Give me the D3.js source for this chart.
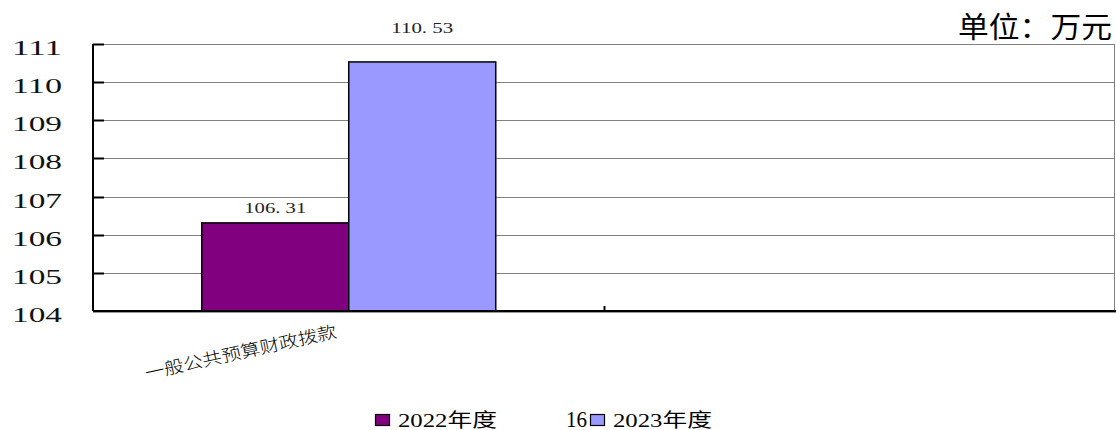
<!DOCTYPE html>
<html>
<head>
<meta charset="utf-8">
<script src="https://cdn.jsdelivr.net/npm/d3@7"></script>
<style>
  body { margin: 0; background: #fff; }
  #container { width: 1116px; height: 430px; }
</style>
</head>
<body>
<div id="container"></div>
<script>
// data
const categories = ["一般公共预算财政拨款", ""];
const seriesNames = ["2022年度", "2023年度"];
const values2022 = [106.31, null];
const values2023 = [110.53, null];
const yTicks = [104, 105, 106, 107, 108, 109, 110, 111];
const colors = ["#800080", "#9999FF"];

const serif = "'Liberation Serif', 'DejaVu Serif', serif";
const cjk = "'Noto Sans CJK SC', sans-serif";

function drawChart() {
    const W = 1116, H = 430;
    const left = 93, right = 1116, top = 44, bottom = 311;

    const svg = d3.select("#container").append("svg")
        .attr("width", W).attr("height", H);

    const x = d3.scaleBand().domain(categories).range([left, right]);
    const x1 = d3.scaleBand().domain(seriesNames).range([-147, 147]);
    const y = d3.scaleLinear().domain([104, 111]).range([bottom, top]);

    // grid lines
    svg.append("g").selectAll("line").data(yTicks.filter(d => d > 104)).enter().append("line")
        .attr("x1", left).attr("x2", 1114.5)
        .attr("y1", d => Math.round(y(d)) + 0.5).attr("y2", d => Math.round(y(d)) + 0.5)
        .attr("stroke", "#808080").attr("stroke-width", 1);
    // right border
    svg.append("line").attr("x1", 1114.5).attr("x2", 1114.5).attr("y1", top).attr("y2", bottom)
        .attr("stroke", "#808080").attr("stroke-width", 1);

    // bars
    const series = [values2022, values2023];
    series.forEach((vals, si) => {
        svg.append("g").selectAll("rect").data(vals.map((v, i) => ({ v, c: categories[i] })).filter(d => d.v != null))
            .enter().append("rect")
            .attr("x", d => x(d.c) + x.bandwidth() / 2 + x1(seriesNames[si]))
            .attr("y", d => y(d.v))
            .attr("width", x1.bandwidth())
            .attr("height", d => bottom - y(d.v))
            .attr("fill", colors[si]).attr("stroke", "#000").attr("stroke-width", 1.5);
    });

    // value labels (2023 label sits higher, as in the source)
    const labelOffset = [10, 29];
    series.forEach((vals, si) => {
        svg.append("g").selectAll("text").data(vals.map((v, i) => ({ v, c: categories[i] })).filter(d => d.v != null))
            .enter().append("text")
            .attr("x", d => x(d.c) + x.bandwidth() / 2 + x1(seriesNames[si]) + x1.bandwidth() / 2)
            .attr("y", d => y(d.v) - labelOffset[si])
            .attr("text-anchor", "middle")
            .attr("font-family", serif).attr("font-size", 15)
            .attr("fill", "#222")
            .attr("textLength", 62).attr("lengthAdjust", "spacingAndGlyphs")
            .text(d => d.v.toFixed(2).replace(".", ". "));
    });

    // y axis
    svg.append("line").attr("x1", left).attr("x2", left).attr("y1", top).attr("y2", bottom)
        .attr("stroke", "#000").attr("stroke-width", 2);
    svg.append("g").selectAll("line").data(yTicks).enter().append("line")
        .attr("x1", left).attr("x2", left + 11)
        .attr("y1", d => Math.round(y(d)) + 0.5).attr("y2", d => Math.round(y(d)) + 0.5)
        .attr("stroke", "#000").attr("stroke-width", 2);
    svg.append("g").selectAll("text").data(yTicks).enter().append("text")
        .attr("x", 12).attr("y", d => y(d) + 11)
        .attr("font-family", serif).attr("font-size", 22)
        .attr("fill", "#111")
        .attr("textLength", 50).attr("lengthAdjust", "spacingAndGlyphs")
        .text(d => d);

    // x axis
    svg.append("line").attr("x1", left).attr("x2", W).attr("y1", bottom).attr("y2", bottom)
        .attr("stroke", "#000").attr("stroke-width", 2);
    svg.append("line").attr("x1", left).attr("x2", W).attr("y1", bottom + 1.5).attr("y2", bottom + 1.5)
        .attr("stroke", "#999").attr("stroke-width", 1);
    svg.append("g").selectAll("line").data(categories.slice(1)).enter().append("line")
        .attr("x1", d => x(d)).attr("x2", d => x(d)).attr("y1", bottom - 5).attr("y2", bottom)
        .attr("stroke", "#000").attr("stroke-width", 2);

    svg.append("g").selectAll("text").data(categories.filter(d => d)).enter().append("text")
        .attr("transform", d => `translate(${x(d) + x.bandwidth() / 2 - 11},${bottom + 26}) rotate(-12.5)`)
        .attr("text-anchor", "end")
        .attr("font-family", cjk).attr("font-size", 17).attr("font-weight", 300)
        .attr("textLength", 196).attr("lengthAdjust", "spacingAndGlyphs")
        .text(d => d);

    // unit
    svg.append("text").attr("x", 1112).attr("y", 38).attr("text-anchor", "end")
        .attr("font-family", cjk).attr("font-size", 29)
        .attr("textLength", 154).attr("lengthAdjust", "spacingAndGlyphs")
        .text("单位：万元");

    // legend
    const legendX = [375, 590];
    const lg = svg.append("g");
    seriesNames.forEach((s, i) => {
        lg.append("rect").attr("x", legendX[i] + 0.5).attr("y", 414.5).attr("width", 14).attr("height", 11)
            .attr("fill", colors[i]).attr("stroke", "#000").attr("stroke-width", 1.2);
        lg.append("text").attr("x", legendX[i] + 23).attr("y", 427)
            .attr("font-family", `${serif}, 'Noto Sans CJK SC'`).attr("font-size", 19)
            .attr("textLength", 99).attr("lengthAdjust", "spacingAndGlyphs")
            .text(s);
    });
    lg.append("text").attr("x", 566).attr("y", 427)
        .attr("font-family", serif).attr("font-size", 24)
        .attr("textLength", 21).attr("lengthAdjust", "spacingAndGlyphs")
        .text("16");
}

drawChart();
</script>
</body>
</html>
